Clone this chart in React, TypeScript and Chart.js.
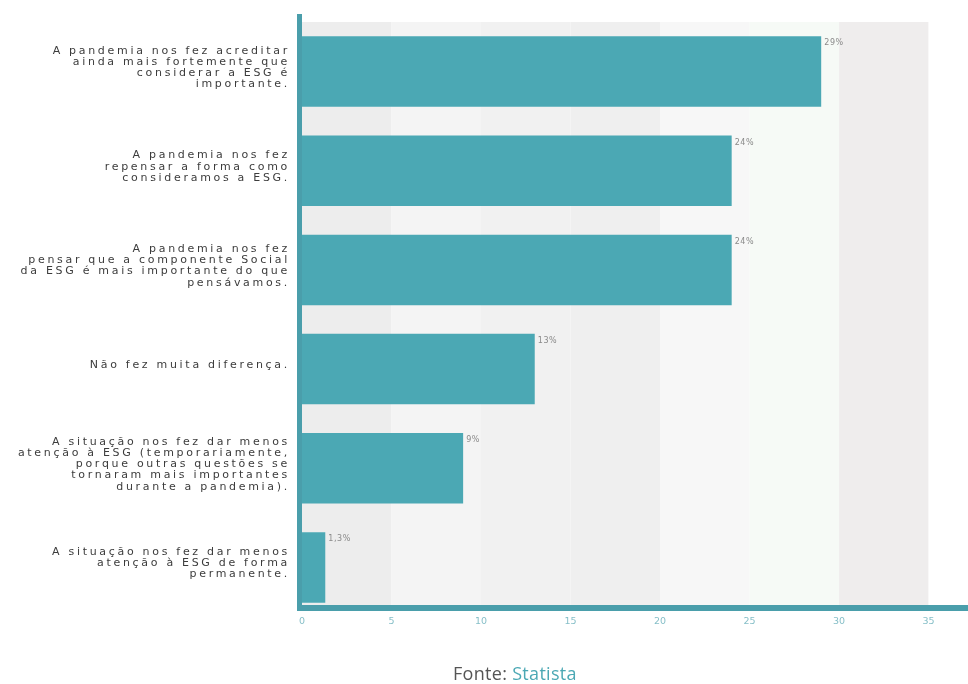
import React, { useEffect, useRef } from "react";
import { Chart, registerables } from "chart.js";

Chart.register(...registerables);

const categoryLines: string[][] = [
  ["A pandemia nos fez acreditar", "ainda mais fortemente que", "considerar a ESG é", "importante."],
  ["A pandemia nos fez", "repensar a forma como", "consideramos a ESG."],
  ["A pandemia nos fez", "pensar que a componente Social", "da ESG é mais importante do que", "pensávamos."],
  ["Não fez muita diferença."],
  ["A situação nos fez dar menos", "atenção à ESG (temporariamente,", "porque outras questões se", "tornaram mais importantes", "durante a pandemia)."],
  ["A situação nos fez dar menos", "atenção à ESG de forma", "permanente."],
];
const values: number[] = [29, 24, 24, 13, 9, 1.3];
const valueLabels: string[] = ["29%", "24%", "24%", "13%", "9%", "1,3%"];
const xTickValues: number[] = [0, 5, 10, 15, 20, 25, 30, 35];
const bandEdges: number[] = [0, 5, 10, 15, 20, 25, 30, 35];
const bandColors: string[] = ["#ededed", "#f4f4f4", "#f1f1f1", "#efefef", "#f7f7f7", "#f6faf6", "#efeded", "#ffffff"];

const BAR = "#4ba8b4";
const AXIS = "#4a9eab";

const decorPlugin = {
  id: "decor",
  beforeDatasetsDraw(chart: any) {
    const { ctx, chartArea, scales } = chart;
    const xs = scales.x;
    ctx.save();
    for (let i = 0; i < bandEdges.length; i++) {
      const x0 = xs.getPixelForValue(bandEdges[i]);
      const x1 = i + 1 < bandEdges.length ? xs.getPixelForValue(bandEdges[i + 1]) : chartArea.right;
      ctx.fillStyle = bandColors[i];
      ctx.fillRect(x0, chartArea.top, x1 - x0, chartArea.bottom - 11 - chartArea.top);
    }
    ctx.restore();
  },
  afterDatasetsDraw(chart: any) {
    const { ctx, chartArea, scales } = chart;
    const xs = scales.x;
    const ys = scales.y;
    const axisY = chartArea.bottom - 12;
    ctx.save();
    ctx.fillStyle = AXIS;
    ctx.fillRect(chartArea.left - 5, chartArea.top - 8, 5, axisY - chartArea.top + 8 + 6);
    ctx.fillRect(chartArea.left - 5, axisY, chartArea.right - chartArea.left + 5, 6);

    // x tick labels (positions from the x scale)
    ctx.font = "9.5px 'DejaVu Sans'";
    ctx.fillStyle = "#86bfc8";
    ctx.textAlign = "center";
    ctx.textBaseline = "middle";
    xs.ticks.forEach((t: any) => {
      ctx.fillText(String(t.value), xs.getPixelForValue(t.value), axisY + 17);
    });

    // category labels
    ctx.font = "11px 'DejaVu Sans'";
    (ctx as any).letterSpacing = "2.7px";
    ctx.fillStyle = "#3c3c3c";
    ctx.textAlign = "right";
    ctx.textBaseline = "middle";
    const lh = 11.2;
    categoryLines.forEach((lines, i) => {
      const cy = ys.getPixelForValue(i) - 4;
      const startY = cy - ((lines.length - 1) * lh) / 2;
      lines.forEach((ln, j) => {
        ctx.fillText(ln, chartArea.left - 12, startY + j * lh);
      });
    });

    // value labels
    const meta = chart.getDatasetMeta(0);
    ctx.font = "8px 'DejaVu Sans'";
    (ctx as any).letterSpacing = "0.6px";
    ctx.fillStyle = "#8a8a8a";
    ctx.textAlign = "left";
    ctx.textBaseline = "middle";
    meta.data.forEach((bar: any, i: number) => {
      const top = bar.y - bar.height / 2;
      ctx.fillText(valueLabels[i], xs.getPixelForValue(values[i]) + 3, top + 7);
    });
    (ctx as any).letterSpacing = "0px";
    ctx.restore();
  },
};

export default function App() {
  const ref = useRef<HTMLCanvasElement | null>(null);
  useEffect(() => {
    if (!ref.current) return;
    const chart = new Chart(ref.current, {
      type: "bar",
      data: {
        labels: categoryLines.map((l) => l.join(" ")),
        datasets: [
          {
            data: values,
            backgroundColor: BAR,
            borderWidth: 0,
            barPercentage: 0.9,
            categoryPercentage: 0.79,
          },
        ],
      },
      options: {
        indexAxis: "y",
        animation: false,
        responsive: false,
        maintainAspectRatio: false,
        layout: { padding: { left: 302, right: 0, top: 22, bottom: 59 } },
        plugins: { legend: { display: false }, tooltip: { enabled: false }, title: { display: false } },
        scales: {
          x: {
            type: "linear",
            min: 0,
            max: 37.2,
            afterBuildTicks: (scale: any) => {
              scale.ticks = xTickValues.map((v) => ({ value: v }));
            },
            grid: { display: false },
            border: { display: false },
            ticks: { display: false },
          },
          y: {
            type: "category",
            display: false,
            grid: { display: false },
          },
        },
      },
      plugins: [decorPlugin],
    });
    return () => chart.destroy();
  }, []);

  return (
    <div style={{ position: "fixed", left: 0, top: 0, width: 968, height: 684, background: "#ffffff", overflow: "hidden" }}>
      <canvas ref={ref} width={968} height={684} style={{ display: "block", width: 968, height: 684 }} />
      <div
        style={{
          position: "absolute",
          left: 453,
          top: 664,
          whiteSpace: "nowrap",
          fontFamily: "'Open Sans', sans-serif",
          fontSize: 18,
          lineHeight: "18px",
          letterSpacing: "0.3px",
        }}
      >
        <span style={{ color: "#555555" }}>Fonte: </span>
        <span style={{ color: "#4ba8b4" }}>Statista</span>
      </div>
    </div>
  );
}
